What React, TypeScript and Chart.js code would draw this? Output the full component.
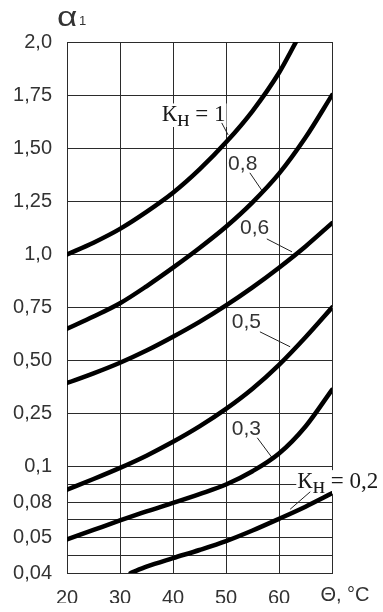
import React, { useEffect, useRef } from "react";
import { Chart, registerables } from "chart.js";

Chart.register(...registerables);

// ---------- axis definitions ----------
const thetaTicks = [20, 30, 40, 50, 60, 70];
const thetaTickLabels = ["20", "30", "40", "50", "60", ""];
const thetaAxisTitle = "Θ, °C";
const alphaAxisTitle = "α";
const alphaAxisTitleSub = "1";

const alphaTickValues = [0.04, 0.05, 0.08, 0.1, 0.25, 0.5, 0.75, 1.0, 1.25, 1.5, 1.75, 2.0];
const alphaTickLabels = ["0,04", "0,05", "0,08", "0,1", "0,25", "0,50", "0,75", "1,0", "1,25", "1,50", "1,75", "2,0"];
// the printed axis is non-uniform: slot index of each labelled value
const alphaTickSlots = [0, 2 / 3, 4 / 3, 2, 3, 4, 5, 6, 7, 8, 9, 10];
const alphaMinorSlots = [1 / 3, 1, 5 / 3];

// ---------- curve data (Θ in °C, α1) ----------
const thetaK10 = [20, 25, 30, 35, 40, 45, 50, 55, 60, 63.2];
const alphaK10 = [1.0, 1.055, 1.12, 1.2, 1.29, 1.4, 1.5275, 1.675, 1.855, 2.0];

const thetaFull = [20, 25, 30, 35, 40, 45, 50, 55, 60, 65, 70];
const alphaK08 = [0.65, 0.7075, 0.77, 0.85, 0.9375, 1.03, 1.13, 1.245, 1.38, 1.55, 1.75];
const alphaK06 = [0.395, 0.44, 0.49, 0.5475, 0.6125, 0.6825, 0.76, 0.845, 0.9375, 1.0375, 1.1475];
const alphaK05 = [0.0871, 0.0931, 0.0994, 0.1315, 0.1705, 0.214, 0.2725, 0.3675, 0.48, 0.61, 0.75];
const alphaK03 = [0.0495, 0.0565, 0.0645, 0.0722, 0.0794, 0.0846, 0.09, 0.0975, 0.1375, 0.214, 0.3625];

const thetaK02 = [32, 35, 40, 45, 50, 55, 60, 65, 70];
const alphaK02 = [0.04, 0.0418, 0.0442, 0.0465, 0.049, 0.056, 0.0659, 0.0762, 0.085];

// ---------- curve labels (anchored in data coordinates) ----------
const curveLabels = [
  { main: "К", sub: "н", tail: " = 1", serif: true, theta: 37.9, alpha: 1.628, lead: [[49.2, 1.619], [50.4, 1.5625]] },
  { main: "0,8", theta: 50.4, alpha: 1.398, lead: [[54.5, 1.384], [56.8, 1.3]] },
  { main: "0,6", theta: 52.65, alpha: 1.097, lead: [[57.7, 1.073], [62.45, 1.012]] },
  { main: "0,5", theta: 51.1, alpha: 0.654, lead: [[56.4, 0.6355], [62.1, 0.565]] },
  { main: "0,3", theta: 51.1, alpha: 0.1905, lead: [[55.9, 0.182], [58.7, 0.1255]] },
  { main: "К", sub: "н", tail: " = 0,2", serif: true, theta: 63.45, alpha: 0.0882, lead: [[65.9, 0.0859], [62.1, 0.074]] },
];

function toSlot(a: number): number {
  const v = alphaTickValues;
  const s = alphaTickSlots;
  if (a <= v[0]) return s[0] + ((a - v[0]) * (s[1] - s[0])) / (v[1] - v[0]);
  for (let i = 1; i < v.length; i++) {
    if (a <= v[i]) return s[i - 1] + ((a - v[i - 1]) * (s[i] - s[i - 1])) / (v[i] - v[i - 1]);
  }
  const n = v.length - 1;
  return s[n] + ((a - v[n]) * (s[n] - s[n - 1])) / (v[n] - v[n - 1]);
}

const SANS = "'Liberation Sans', Arial, sans-serif";
const SERIF = "'Liberation Serif', 'Times New Roman', serif";
const GRID = "#2b2b2b";
const TEXT = "#333333";

const labelsPlugin = {
  id: "curveLabels",
  beforeDatasetsDraw(chart: any) {
    const { ctx, scales } = chart;
    const xs = scales.x;
    const ys = scales.y;
    ctx.save();
    for (const lab of curveLabels) {
      const px = xs.getPixelForValue(lab.theta);
      const py = ys.getPixelForValue(toSlot(lab.alpha));
      ctx.textBaseline = "alphabetic";
      ctx.textAlign = "left";
      const size = lab.serif ? 23 : 21;
      ctx.font = lab.serif ? `${size}px ${SERIF}` : `${size}px ${SANS}`;
      const wMain = ctx.measureText(lab.main).width;
      const wSub = lab.sub ? ctx.measureText(lab.sub).width : 0;
      const wTail = lab.tail ? ctx.measureText(lab.tail).width : 0;
      const w = wMain + wSub + wTail;
      // white background box
      ctx.fillStyle = "#ffffff";
      ctx.fillRect(px - 1, py - size * 0.72 - 1, w + 2, size * 0.72 + (lab.sub ? 7 : 2));
      // leader line
      ctx.strokeStyle = "#222";
      ctx.lineWidth = 1;
      ctx.beginPath();
      const [a, b] = lab.lead;
      ctx.moveTo(xs.getPixelForValue(a[0]), ys.getPixelForValue(toSlot(a[1])));
      ctx.lineTo(xs.getPixelForValue(b[0]), ys.getPixelForValue(toSlot(b[1])));
      ctx.stroke();
      // text
      ctx.fillStyle = lab.serif ? "#1a1a1a" : TEXT;
      ctx.fillText(lab.main, px, py);
      if (lab.sub) ctx.fillText(lab.sub, px + wMain, py + 5);
      if (lab.tail) ctx.fillText(lab.tail, px + wMain + wSub, py);
    }
    ctx.restore();
  },
  afterDraw(chart: any) {
    const { ctx, chartArea } = chart;
    ctx.save();
    ctx.fillStyle = TEXT;
    ctx.textBaseline = "alphabetic";
    ctx.textAlign = "left";
    // y-axis title α1
    ctx.save();
    ctx.translate(chartArea.left - 10, chartArea.top - 16);
    ctx.scale(1.3, 1);
    ctx.font = "27px 'Liberation Sans', sans-serif";
    ctx.fillText(alphaAxisTitle, 0, 0);
    ctx.restore();
    ctx.font = `13px ${SANS}`;
    ctx.fillText(alphaAxisTitleSub, chartArea.left + 12, chartArea.top - 17);
    // x-axis title Θ, °C
    ctx.textAlign = "center";
    ctx.textBaseline = "middle";
    ctx.font = `20px ${SANS}`;
    ctx.fillText(thetaAxisTitle, chartArea.right + 13, chartArea.bottom + 22);
    ctx.restore();
  },
};

function makeSet(label: string, xs: number[], ys: number[]) {
  return {
    label,
    data: xs.map((t, i) => ({ x: t, y: toSlot(ys[i]) })),
    borderColor: "#000000",
    backgroundColor: "#000000",
    borderWidth: 4.5,
    borderCapStyle: "round" as const,
    pointRadius: 0,
    cubicInterpolationMode: "monotone" as const,
    fill: false,
  };
}

export default function App() {
  const ref = useRef<HTMLCanvasElement>(null);
  useEffect(() => {
    const chart = new Chart(ref.current as HTMLCanvasElement, {
      type: "line",
      data: {
        datasets: [
          makeSet("Кн = 1", thetaK10, alphaK10),
          makeSet("0,8", thetaFull, alphaK08),
          makeSet("0,6", thetaFull, alphaK06),
          makeSet("0,5", thetaFull, alphaK05),
          makeSet("0,3", thetaFull, alphaK03),
          makeSet("Кн = 0,2", thetaK02, alphaK02),
        ],
      },
      options: {
        responsive: false,
        animation: false,
        layout: { padding: { left: 0, top: 42, right: 51, bottom: 9 } },
        plugins: { legend: { display: false }, tooltip: { enabled: false } },
        scales: {
          x: {
            type: "linear",
            min: 20,
            max: 70,
            afterBuildTicks: (scale: any) => {
              scale.ticks = thetaTicks.map((v) => ({ value: v }));
            },
            afterFit: (scale: any) => {
              scale.height = 30;
            },
            grid: { color: GRID, lineWidth: 1, drawTicks: false },
            border: { color: GRID, width: 1 },
            ticks: {
              autoSkip: false,
              maxRotation: 0,
              padding: 13,
              color: TEXT,
              font: { family: SANS, size: 20 },
              callback: (v: any) => {
                const i = thetaTicks.indexOf(Number(v));
                return i >= 0 ? thetaTickLabels[i] : "";
              },
            },
          },
          y: {
            type: "linear",
            min: 0,
            max: 10,
            afterBuildTicks: (scale: any) => {
              scale.ticks = [...alphaTickSlots, ...alphaMinorSlots]
                .sort((a, b) => a - b)
                .map((v) => ({ value: v }));
            },
            afterFit: (scale: any) => {
              scale.width = 67;
            },
            grid: { color: GRID, lineWidth: 1, drawTicks: false },
            border: { color: GRID, width: 1 },
            ticks: {
              autoSkip: false,
              padding: 15,
              color: TEXT,
              font: { family: SANS, size: 20 },
              callback: (v: any) => {
                const i = alphaTickSlots.findIndex((s) => Math.abs(s - Number(v)) < 1e-6);
                return i >= 0 ? alphaTickLabels[i] : "";
              },
            },
          },
        },
      },
      plugins: [labelsPlugin],
    });
    return () => chart.destroy();
  }, []);
  return (
    <div style={{ position: "absolute", left: 0, top: 0, width: 383, height: 612, background: "#fff" }}>
      <canvas ref={ref} width={383} height={612} style={{ display: "block" }} />
    </div>
  );
}
